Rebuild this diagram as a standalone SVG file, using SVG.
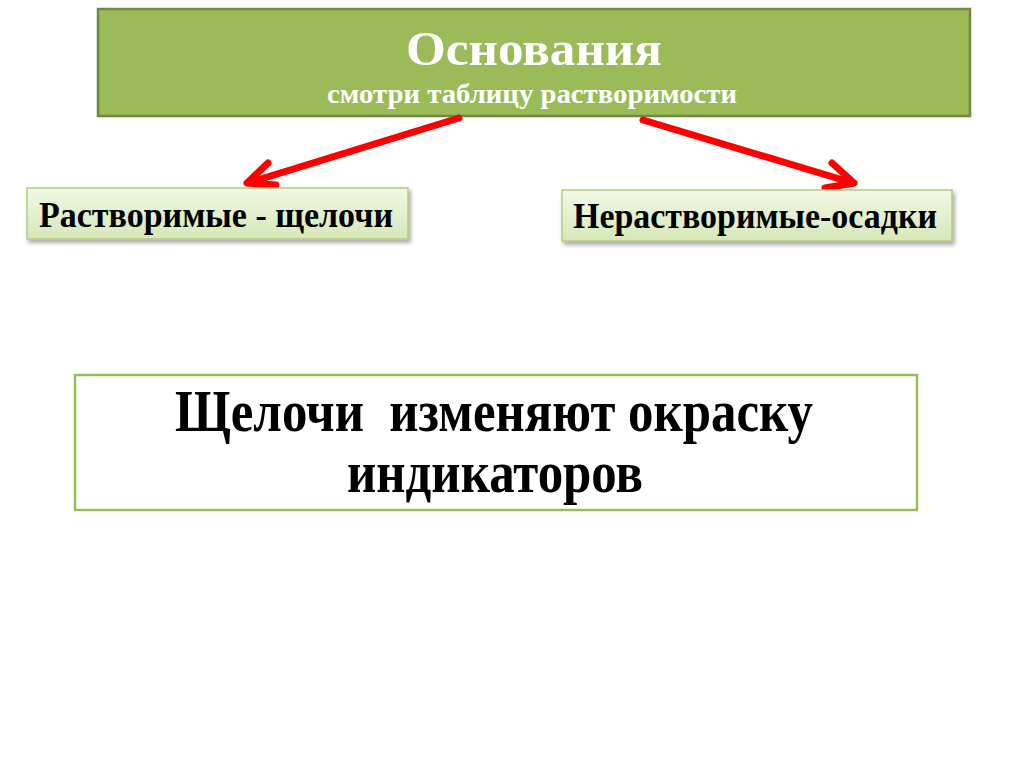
<svg xmlns="http://www.w3.org/2000/svg" width="1024" height="767" viewBox="0 0 1024 767">
  <defs>
    <style>
      .serif { font-family: "Liberation Serif", "Times New Roman", serif; font-weight: bold; }
      .white { fill: #FFFFFF; }
      .black { fill: #000000; }
      .conn { stroke: #FF0000; stroke-width: 7; stroke-linecap: round; fill: none; }
      .head { stroke: #FF0000; stroke-width: 7; stroke-linecap: round; stroke-linejoin: round; fill: none; }
      .sub { fill: url(#lightGreen); stroke: #B3CB84; stroke-width: 1.5; filter: url(#shadow); }
    </style>
    <linearGradient id="lightGreen" x1="0" y1="0" x2="0" y2="1">
      <stop offset="0" stop-color="#F1F8E6"/>
      <stop offset="1" stop-color="#D6E8B8"/>
    </linearGradient>
    <filter id="shadow" x="-10%" y="-20%" width="120%" height="150%">
      <feDropShadow dx="2" dy="3" stdDeviation="2" flood-color="#000000" flood-opacity="0.35"/>
    </filter>
  </defs>
  <rect x="0" y="0" width="1024" height="767" fill="#FFFFFF"/>

  <g id="node-osnovaniya">
    <rect x="98" y="9" width="872" height="107" fill="#9BBB59" stroke="#71893F" stroke-width="2.5"/>
    <text class="serif white" x="534" y="65" font-size="48" text-anchor="middle" textLength="256" lengthAdjust="spacingAndGlyphs">Основания</text>
    <text class="serif white" x="532" y="103" font-size="28" text-anchor="middle" textLength="410" lengthAdjust="spacingAndGlyphs">смотри таблицу растворимости</text>
  </g>

  <g id="connectors">
    <line class="conn" x1="459" y1="118" x2="248" y2="183"/>
    <polyline class="head" points="268,163 247,183 276,185"/>
    <line class="conn" x1="643" y1="120" x2="853" y2="183"/>
    <polyline class="head" points="832,163 854,183 825,188"/>
  </g>

  <g id="node-rastvorimye">
    <rect class="sub" x="27" y="188" width="381" height="51"/>
    <text class="serif black" x="216" y="227" font-size="35" text-anchor="middle" textLength="354" lengthAdjust="spacingAndGlyphs">Растворимые - щелочи</text>
  </g>

  <g id="node-nerastvorimye">
    <rect class="sub" x="562" y="190" width="390" height="51"/>
    <text class="serif black" x="755" y="228" font-size="35" text-anchor="middle" textLength="364" lengthAdjust="spacingAndGlyphs">Нерастворимые-осадки</text>
  </g>

  <g id="node-shchelochi">
    <rect x="75" y="375" width="842" height="135" fill="#FFFFFF" stroke="#9BBB59" stroke-width="2.5"/>
    <text class="serif black" x="494" y="431" font-size="60" text-anchor="middle" textLength="638" lengthAdjust="spacingAndGlyphs" xml:space="preserve">Щелочи  изменяют окраску</text>
    <text class="serif black" x="495" y="492" font-size="60" text-anchor="middle" textLength="296" lengthAdjust="spacingAndGlyphs">индикаторов</text>
  </g>
</svg>
